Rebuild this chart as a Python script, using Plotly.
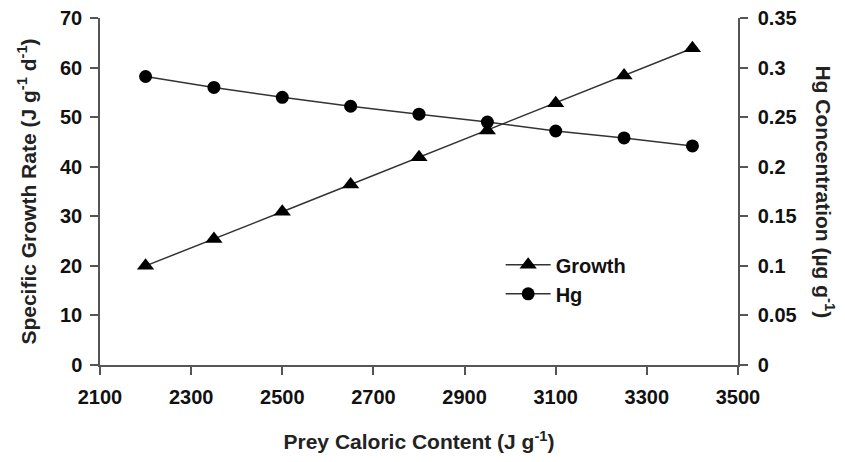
import plotly.graph_objects as go

caloric = [2200, 2350, 2500, 2650, 2800, 2950, 3100, 3250, 3400]
growth = [20.0, 25.4, 30.9, 36.4, 41.9, 47.3, 52.8, 58.4, 63.9]
hg = [0.291, 0.280, 0.270, 0.261, 0.253, 0.245, 0.236, 0.229, 0.221]

x_ticks = [2100, 2300, 2500, 2700, 2900, 3100, 3300, 3500]
y1_ticks = [0, 10, 20, 30, 40, 50, 60, 70]
y2_ticks = [0, 0.05, 0.1, 0.15, 0.2, 0.25, 0.3, 0.35]
y2_labels = ["0", "0.05", "0.1", "0.15", "0.2", "0.25", "0.3", "0.35"]

FONT = "Liberation Sans, Arial, sans-serif"
AXC = "#555555"

fig = go.Figure()
fig.add_trace(go.Scatter(
    x=caloric, y=growth, name="Growth", mode="lines+markers",
    line=dict(color="#333333", width=1.5),
    marker=dict(symbol="triangle-up", size=15, color="black"),
    yaxis="y",
))
fig.add_trace(go.Scatter(
    x=caloric, y=hg, name="Hg", mode="lines+markers",
    line=dict(color="#333333", width=1.5),
    marker=dict(symbol="circle", size=13, color="black"),
    yaxis="y2",
))

tickfont = dict(family=FONT, size=20, color="#111111", weight="bold")
titlefont = dict(family=FONT, size=21, color="#222222", weight="bold")

fig.update_layout(
    template="none",
    width=845, height=462,
    margin=dict(l=100, r=107, t=18, b=97),
    plot_bgcolor="white", paper_bgcolor="white",
    font=dict(family=FONT),
    xaxis=dict(
        range=[2100, 3500], tickvals=x_ticks, ticks="outside", ticklen=8,
        tickcolor=AXC, tickwidth=1.5, showline=True, linecolor=AXC, linewidth=1.5,
        showgrid=False, zeroline=False, tickfont=tickfont, automargin=False,
        ticklabelstandoff=5,
        title=dict(text="Prey Caloric Content (J g<sup>-1</sup>)", font=titlefont, standoff=28),
    ),
    yaxis=dict(
        range=[0, 70], tickvals=y1_ticks, ticks="outside", ticklen=8,
        tickcolor=AXC, tickwidth=1.5, showline=True, linecolor=AXC, linewidth=1.5,
        showgrid=False, zeroline=False, tickfont=tickfont, automargin=False,
        ticklabelstandoff=4,
        title=dict(text="Specific Growth Rate (J g<sup>-1</sup> d<sup>-1</sup>)", font=titlefont, standoff=18),
    ),
    yaxis2=dict(
        range=[0, 0.35], tickvals=y2_ticks, ticktext=y2_labels, ticks="outside", ticklen=8,
        tickcolor=AXC, tickwidth=1.5, showline=True, linecolor=AXC, linewidth=1.5,
        showgrid=False, zeroline=False, tickfont=tickfont, automargin=False,
        ticklabelstandoff=6,
        overlaying="y", side="right", anchor="x",
    ),
    legend=dict(
        x=0.628, y=0.345, xanchor="left", yanchor="top",
        font=dict(family=FONT, size=20, color="#111111", weight="bold"),
        bgcolor="rgba(0,0,0,0)", itemwidth=45,
    ),
    showlegend=True,
)

fig.add_annotation(
    text="Hg Concentration (µg g<sup>-1</sup>)", textangle=90,
    xref="paper", yref="paper", x=1.0, y=0.5, xanchor="center", yanchor="middle",
    xshift=87, showarrow=False, font=titlefont,
)

# remove the page's default body margin so the figure fills the window exactly
fig.write_html(
    "out.html",
    config={"displayModeBar": False},
    post_script="document.body.style.margin='0';document.body.style.overflow='hidden';",
)
